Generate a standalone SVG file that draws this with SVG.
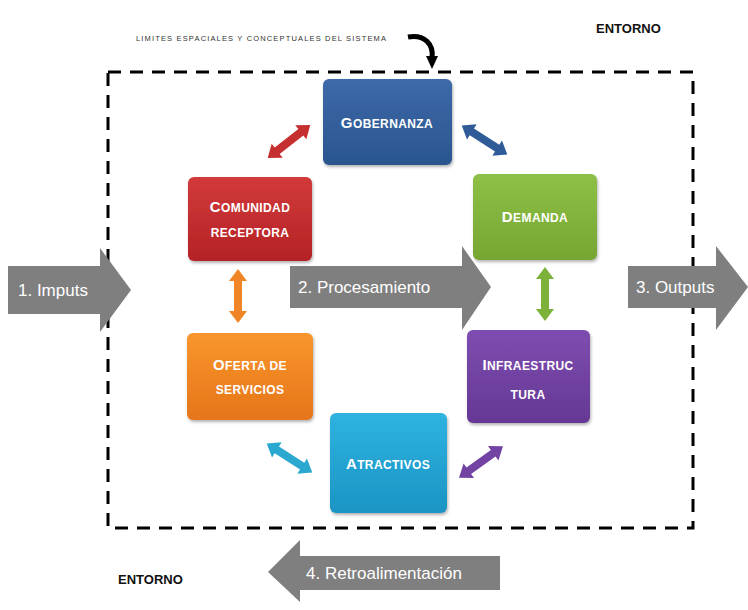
<svg xmlns="http://www.w3.org/2000/svg" width="748" height="610" viewBox="0 0 748 610">
<defs>
<linearGradient id="gBlue" x1="0" y1="0" x2="0" y2="1"><stop offset="0" stop-color="#3d6aa8"/><stop offset="1" stop-color="#2a558f"/></linearGradient>
<linearGradient id="gRed" x1="0" y1="0" x2="0" y2="1"><stop offset="0" stop-color="#d23a3a"/><stop offset="1" stop-color="#b42226"/></linearGradient>
<linearGradient id="gGreen" x1="0" y1="0" x2="0" y2="1"><stop offset="0" stop-color="#8ec047"/><stop offset="1" stop-color="#76a631"/></linearGradient>
<linearGradient id="gOrange" x1="0" y1="0" x2="0" y2="1"><stop offset="0" stop-color="#f8962c"/><stop offset="1" stop-color="#e6751a"/></linearGradient>
<linearGradient id="gPurple" x1="0" y1="0" x2="0" y2="1"><stop offset="0" stop-color="#7e4db0"/><stop offset="1" stop-color="#653895"/></linearGradient>
<linearGradient id="gCyan" x1="0" y1="0" x2="0" y2="1"><stop offset="0" stop-color="#2eb3e0"/><stop offset="1" stop-color="#1b94c4"/></linearGradient>
<filter id="sh" x="-10%" y="-10%" width="130%" height="130%"><feDropShadow dx="1" dy="2" stdDeviation="1.5" flood-color="#000" flood-opacity="0.3"/></filter>
<path id="dbl" d="M-27 0 L-15 -9 L-15 -4 L15 -4 L15 -9 L27 0 L15 9 L15 4 L-15 4 L-15 9 Z"/>
</defs>
<style>
.node text{font-family:"Liberation Sans",Arial,sans-serif;fill:#fff;font-size:12px;font-weight:bold;text-anchor:middle;letter-spacing:0.4px}
.cap{font-size:15px}
.big text{font-family:"Liberation Sans",Arial,sans-serif;fill:#fff;font-size:17px}
.big path{fill:#7f7f7f}
.lbl{font-family:"Liberation Sans",Arial,sans-serif;fill:#111;font-size:13px;font-weight:bold}
</style>
<rect width="748" height="610" fill="#fff"/>
<rect x="108" y="72" width="585" height="456" fill="none" stroke="#000" stroke-width="3" stroke-dasharray="13,9"/>
<text x="136" y="41" font-family="Liberation Sans,Arial,sans-serif" font-size="7.5" fill="#333" textLength="250" lengthAdjust="spacing">LIMITES ESPACIALES Y CONCEPTUALES DEL SISTEMA</text>
<text class="lbl" x="596" y="33">ENTORNO</text>
<text class="lbl" x="118" y="584">ENTORNO</text>
<g id="connectors">
<path d="M408 37 C424 34 434 44 432 58" fill="none" stroke="#000" stroke-width="5"/>
<path d="M426 56 L438 56 L432 69 Z" fill="#000"/>
<use href="#dbl" fill="#c62f2f" transform="translate(289,141.5) rotate(-38)"/>
<use href="#dbl" fill="#2f5c99" transform="translate(484.5,140) rotate(32.5)"/>
<use href="#dbl" fill="#f08526" transform="translate(238,296) rotate(90)"/>
<use href="#dbl" fill="#7cb13a" transform="translate(545,294) rotate(90)"/>
<use href="#dbl" fill="#2aa8cf" transform="translate(289.5,458) rotate(32.5)"/>
<use href="#dbl" fill="#7343a3" transform="translate(481,462) rotate(-35.5)"/>
</g>
<g id="gobernanza" class="node"><rect x="323" y="79" width="129" height="86" rx="6" fill="url(#gBlue)" filter="url(#sh)"/><text x="387" y="128"><tspan class="cap">G</tspan>OBERNANZA</text></g>
<g id="comunidad" class="node"><rect x="188" y="177" width="124" height="84" rx="6" fill="url(#gRed)" filter="url(#sh)"/><text x="250" y="212"><tspan class="cap">C</tspan>OMUNIDAD</text><text x="250" y="237">RECEPTORA</text></g>
<g id="demanda" class="node"><rect x="473" y="174" width="124" height="86" rx="6" fill="url(#gGreen)" filter="url(#sh)"/><text x="535" y="222"><tspan class="cap">D</tspan>EMANDA</text></g>
<g id="oferta" class="node"><rect x="187" y="333" width="126" height="87" rx="6" fill="url(#gOrange)" filter="url(#sh)"/><text x="250" y="370"><tspan class="cap">O</tspan>FERTA DE</text><text x="250" y="394">SERVICIOS</text></g>
<g id="infraestructura" class="node"><rect x="467" y="330" width="123" height="93" rx="6" fill="url(#gPurple)" filter="url(#sh)"/><text x="528" y="370"><tspan class="cap">I</tspan>NFRAESTRUC</text><text x="528" y="399">TURA</text></g>
<g id="atractivos" class="node"><rect x="330" y="413" width="117" height="100" rx="6" fill="url(#gCyan)" filter="url(#sh)"/><text x="388" y="469"><tspan class="cap">A</tspan>TRACTIVOS</text></g>
<g id="imputs" class="big"><path d="M8 266 L100 266 L100 248 L131 290 L100 332 L100 314 L8 314 Z"/><text x="18" y="296">1. Imputs</text></g>
<g id="procesamiento" class="big"><path d="M290 266 L462 266 L462 246 L491 287 L462 330 L462 308 L290 308 Z"/><text x="298" y="293">2. Procesamiento</text></g>
<g id="outputs" class="big"><path d="M628 266 L716 266 L716 246 L748 287 L716 330 L716 308 L628 308 Z"/><text x="636" y="293">3. Outputs</text></g>
<g id="retro" class="big"><path d="M500 556 L300 556 L300 540 L268 572 L300 602 L300 590 L500 590 Z"/><text x="306" y="579">4. Retroalimentación</text></g>
</svg>
